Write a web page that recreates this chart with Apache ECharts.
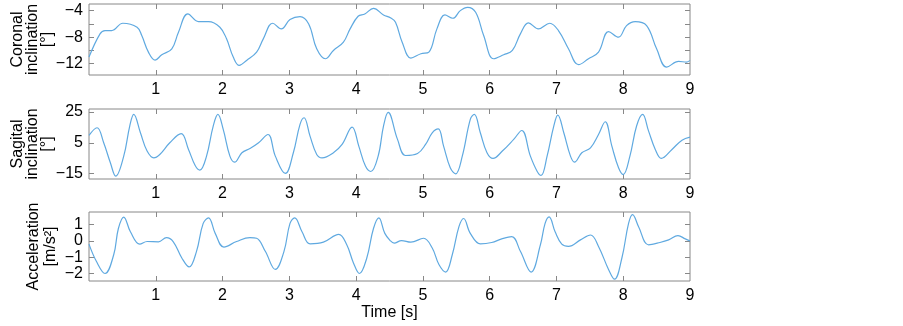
<!DOCTYPE html>
<html>
<head>
<meta charset="utf-8">
<script src="https://cdn.jsdelivr.net/npm/echarts@6/dist/echarts.min.js"></script>
<style>
  html, body { margin: 0; padding: 0; background: #fff; }
  #chart { width: 903px; height: 326px; }
</style>
</head>
<body>
<div id="chart"></div>
<script>
// time axis
const xTicks = [1, 2, 3, 4, 5, 6, 7, 8];
const xLabels = [1, 2, 3, 4, 5, 6, 7, 8, 9];

// coronal inclination [deg]
const coronalT = [0, 0.165, 0.24, 0.34, 0.506, 0.72, 0.79, 0.89, 0.99, 1.09, 1.24, 1.34, 1.48, 1.64, 1.79, 1.96, 2.06, 2.16, 2.25, 2.36, 2.51, 2.61, 2.75, 2.88, 3.01, 3.16, 3.29, 3.41, 3.54, 3.66, 3.81, 3.91, 4.03, 4.13, 4.26, 4.41, 4.52, 4.59, 4.69, 4.82, 4.97, 5.09, 5.21, 5.33, 5.45, 5.56, 5.67, 5.79, 5.91, 6.06, 6.21, 6.34, 6.46, 6.58, 6.73, 6.9, 7.03, 7.18, 7.33, 7.48, 7.63, 7.78, 7.93, 8.05, 8.18, 8.35, 8.5, 8.65, 8.83, 8.95, 9.0];
const coronalV = [-11.0, -7.5, -7.0, -7.0, -5.9, -6.5, -7.75, -10.25, -11.45, -10.65, -9.75, -7.25, -4.5, -5.65, -5.65, -6.5, -8.25, -11.0, -12.25, -11.5, -10.25, -8.25, -5.9, -6.75, -5.35, -4.9, -6.0, -9.75, -11.25, -10.0, -8.75, -6.75, -4.85, -4.5, -3.65, -4.65, -5.1, -5.75, -8.75, -11.15, -10.5, -10.25, -6.75, -4.65, -5.15, -4.0, -3.5, -4.25, -7.75, -11.25, -10.65, -10.0, -7.5, -5.85, -6.75, -5.9, -7.0, -9.75, -12.15, -11.25, -10.25, -7.15, -8.0, -6.25, -5.65, -6.25, -9.75, -12.5, -11.65, -11.75, -11.5];
const coronalTicks = [-12, -10, -8, -6, -4];
const coronalLabels = [-12, -8, -4];

// sagital inclination [deg]
const sagitalT = [0.0, 0.12, 0.22, 0.32, 0.4, 0.52, 0.61, 0.67, 0.77, 0.87, 0.97, 1.06, 1.21, 1.38, 1.49, 1.59, 1.66, 1.76, 1.86, 1.93, 2.01, 2.11, 2.18, 2.29, 2.41, 2.54, 2.68, 2.79, 2.94, 3.06, 3.16, 3.22, 3.31, 3.41, 3.49, 3.66, 3.79, 3.94, 4.04, 4.14, 4.22, 4.33, 4.41, 4.48, 4.62, 4.74, 4.92, 5.04, 5.14, 5.23, 5.31, 5.41, 5.49, 5.59, 5.71, 5.77, 5.86, 5.96, 6.05, 6.19, 6.36, 6.48, 6.61, 6.71, 6.77, 6.86, 6.96, 7.02, 7.11, 7.21, 7.27, 7.38, 7.51, 7.63, 7.73, 7.83, 7.93, 8.0, 8.1, 8.2, 8.29, 8.38, 8.48, 8.57, 8.73, 8.88, 9.0];
const sagitalV = [9.8, 14.8, 5.0, -8.0, -16.7, -3.7, 15.9, 23.5, 11.5, -0.4, -4.8, -2.6, 5.0, 10.9, 0.65, -9.8, -12.8, -3.7, 15.9, 23.5, 13.7, -3.7, -7.6, -1.5, 1.3, 5.0, 10.4, -3.7, -15.0, -1.5, 17.0, 21.3, 9.3, -2.6, -4.8, -1.5, 3.9, 15.2, 2.8, -10.2, -13.7, -3.7, 15.9, 24.8, 7.2, -3.3, -2.0, 3.9, 11.5, 14.1, 2.8, -11.3, -15.2, -3.7, 20.2, 23.5, 11.5, -1.5, -5.2, -0.4, 7.2, 13.0, -3.7, -13.5, -16.3, -3.7, 15.9, 23.0, 11.5, -3.7, -7.6, -1.5, 1.7, 10.4, 18.7, 2.8, -11.3, -15.7, -3.7, 15.9, 23.5, 12.6, 0.65, -5.2, 0.65, 6.7, 8.7];
const sagitalTicks = [-15, 5, 25];

// acceleration [m/s^2]
const accelT = [0.0, 0.11, 0.24, 0.37, 0.44, 0.52, 0.62, 0.76, 0.87, 1.04, 1.16, 1.26, 1.39, 1.5, 1.61, 1.71, 1.79, 1.89, 2.02, 2.21, 2.41, 2.51, 2.64, 2.79, 2.92, 3.01, 3.08, 3.19, 3.31, 3.51, 3.74, 3.86, 3.96, 4.05, 4.16, 4.26, 4.34, 4.43, 4.51, 4.57, 4.68, 4.82, 5.01, 5.14, 5.24, 5.34, 5.44, 5.54, 5.61, 5.71, 5.86, 6.03, 6.18, 6.33, 6.46, 6.62, 6.76, 6.83, 6.89, 6.98, 7.08, 7.18, 7.36, 7.51, 7.63, 7.78, 7.87, 7.98, 8.08, 8.14, 8.23, 8.38, 8.55, 8.68, 8.82, 8.93, 9.0];
const accelV = [-0.2, -1.25, -2.0, -0.85, 0.76, 1.46, 0.56, -0.2, -0.04, -0.06, 0.2, -0.04, -1.05, -1.6, -0.64, 1.07, 1.41, 0.46, -0.38, -0.04, 0.2, 0.16, -0.64, -1.75, -0.64, 1.07, 1.41, 0.56, -0.18, -0.08, 0.4, -0.24, -1.35, -2.0, -1.05, 0.76, 1.41, 0.46, 0.02, -0.14, 0.02, -0.08, 0.16, -0.44, -1.45, -1.91, -0.85, 0.87, 1.37, 0.46, -0.18, -0.1, 0.12, 0.26, -0.64, -1.91, -0.24, 1.07, 1.47, 0.56, -0.2, -0.34, 0.06, 0.36, -0.34, -1.75, -2.35, -1.05, 1.07, 1.61, 0.87, -0.24, -0.1, 0.06, 0.32, 0.12, 0.0];
const accelTicks = [-2, -1, 0, 1];

const lineColor = '#5fa9e0';
const frameColor = '#888';
const fontFamily = '"Liberation Sans", Arial, sans-serif';
const fontSize = 16;

const pair = (ts, vs) => ts.map((t, i) => [t, vs[i]]);
const minus = (v) => String(v).replace('-', '\u2212');

const panels = [
  { top: 4, height: 71, min: -13.7, max: -3, ticks: coronalTicks, labels: coronalLabels,
    name: 'Coronal\ninclination\n[°]', gap: 34, lh: 15, data: pair(coronalT, coronalV) },
  { top: 109, height: 70, min: -18.6, max: 27, ticks: sagitalTicks, labels: sagitalTicks,
    name: 'Sagital\ninclination\n[°]', gap: 34, lh: 15, data: pair(sagitalT, sagitalV) },
  { top: 212, height: 69, min: -2.46, max: 1.77, ticks: accelTicks, labels: accelTicks,
    name: 'Acceleration\n[m/s²]', gap: 30, lh: 17, data: pair(accelT, accelV) }
];

const grid = [], xAxis = [], yAxis = [], series = [];

panels.forEach((p, i) => {
  grid.push({
    left: 89, right: 213, top: p.top, height: p.height,
    show: true, borderColor: frameColor, borderWidth: 1,
    outerBoundsMode: 'none', containLabel: false
  });
  const tick = { inside: true, length: 5, lineStyle: { color: frameColor } };
  const line = { show: false, onZero: false };
  // bottom x axis with labels
  xAxis.push({
    gridIndex: i, type: 'value', min: 0, max: 9, position: 'bottom',
    axisLine: line, splitLine: { show: false },
    axisTick: Object.assign({ customValues: xTicks }, tick),
    axisLabel: { customValues: xLabels, fontSize: fontSize, color: '#000', margin: 7, fontFamily: fontFamily },
    name: i === 2 ? 'Time [s]' : '', nameLocation: 'middle', nameGap: 24, nameMoveOverlap: false,
    nameTextStyle: { fontSize: fontSize, color: '#000', fontFamily: fontFamily }
  });
  // top x axis, ticks only
  xAxis.push({
    gridIndex: i, type: 'value', min: 0, max: 9, position: 'top',
    axisLine: line, splitLine: { show: false },
    axisTick: Object.assign({ customValues: xTicks }, tick),
    axisLabel: { show: false }
  });
  yAxis.push({
    gridIndex: i, type: 'value', min: p.min, max: p.max, position: 'left',
    axisLine: line, splitLine: { show: false },
    axisTick: Object.assign({ customValues: p.ticks }, tick),
    axisLabel: { customValues: p.labels, fontSize: fontSize, color: '#000', margin: 6,
      fontFamily: fontFamily, formatter: minus },
    name: p.name, nameLocation: 'middle', nameGap: p.gap, nameMoveOverlap: false,
    nameTextStyle: { fontSize: fontSize, lineHeight: p.lh, color: '#000', fontFamily: fontFamily }
  });
  yAxis.push({
    gridIndex: i, type: 'value', min: p.min, max: p.max, position: 'right',
    axisLine: line, splitLine: { show: false },
    axisTick: Object.assign({ customValues: p.ticks }, tick),
    axisLabel: { show: false }
  });
  series.push({
    type: 'line', xAxisIndex: i * 2, yAxisIndex: i * 2,
    data: p.data, smooth: 0.4, symbol: 'none',
    lineStyle: { color: lineColor, width: 1.2 }
  });
});

const chart = echarts.init(document.getElementById('chart'));
chart.setOption({
  animation: false,
  backgroundColor: '#fff',
  textStyle: { fontFamily: fontFamily },
  grid: grid,
  xAxis: xAxis,
  yAxis: yAxis,
  series: series
});
</script>
</body>
</html>
